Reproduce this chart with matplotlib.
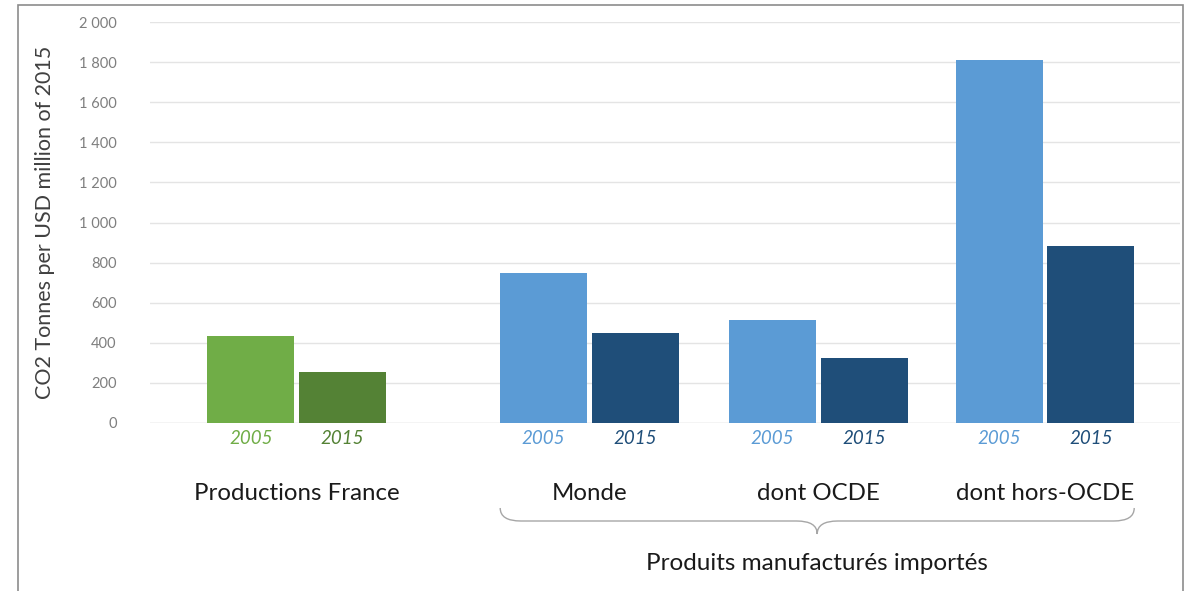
import matplotlib
matplotlib.use("Agg")
import matplotlib.pyplot as plt
from matplotlib.path import Path
from matplotlib.patches import PathPatch, Rectangle
import matplotlib.transforms as mtransforms
from matplotlib.ticker import FuncFormatter

plt.rcParams['font.family'] = ['Lato', 'DejaVu Sans']

groups = ["Productions France", "Monde", "dont OCDE", "dont hors-OCDE"]
years = ["2005", "2015"]
values_2005 = [435, 750, 515, 1810]
values_2015 = [255, 450, 325, 885]
color_2005 = ["#70AD47", "#5B9BD5", "#5B9BD5", "#5B9BD5"]
color_2015 = ["#548235", "#1F4E79", "#1F4E79", "#1F4E79"]
brace_label = "Produits manufacturés importés"
y_label = "CO2 Tonnes per USD million of 2015"
y_ticks = [0, 200, 400, 600, 800, 1000, 1200, 1400, 1600, 1800, 2000]

W, H = 1192, 591
fig = plt.figure(figsize=(W / 100, H / 100), dpi=100)
ax = fig.add_axes([150 / W, 1 - 423 / H, (1180 - 150) / W, (423 - 22) / H])

centers = [0, 1.28, 2.28, 3.27]
bw = 0.38
off = 0.2
for i, g in enumerate(groups):
    ax.bar(centers[i] - off, values_2005[i], width=bw, color=color_2005[i], zorder=3)
    ax.bar(centers[i] + off, values_2015[i], width=bw, color=color_2015[i], zorder=3)

ax.set_xlim(-0.64, 3.86)
ax.set_ylim(0, 2000)
ax.set_yticks(y_ticks)
ax.yaxis.set_major_formatter(FuncFormatter(lambda v, p: f"{int(v):,}".replace(",", " ")))
ax.tick_params(axis='y', length=0, pad=24, labelsize=10.5, labelcolor="#7f7f7f")
ax.set_xticks([])
ax.grid(axis='y', color="#e4e4e4", linewidth=1, zorder=0)
for s in ax.spines.values():
    s.set_visible(False)
ax.axhline(0, color="#e4e4e4", linewidth=1, zorder=1)

ax.set_ylabel(y_label, fontsize=15.5, color="#404040", labelpad=17)

trans = mtransforms.blended_transform_factory(ax.transData, fig.transFigure)
def fy(py):
    return 1 - py / H

for i, g in enumerate(groups):
    ax.text(centers[i] - off, fy(439), years[0], transform=trans, ha='center', va='center',
            style='italic', fontsize=13.5, color=color_2005[i])
    ax.text(centers[i] + off, fy(439), years[1], transform=trans, ha='center', va='center',
            style='italic', fontsize=13.5, color=color_2015[i])
    ax.text(centers[i], fy(493), g, transform=trans, ha='center', va='center',
            fontsize=17.3, color="#1a1a1a")

# brace
xL = centers[1] - off - bw / 2
xR = centers[3] + off + bw / 2
xc = (xL + xR) / 2
d = 0.09
yT, yM, yB = fy(508), fy(521), fy(534)
verts = [(xL, yT), (xL, yM), (xL + d, yM),
         (xc - d, yM), (xc, yM), (xc, yB),
         (xc, yM), (xc + d, yM),
         (xR - d, yM), (xR, yM), (xR, yT)]
codes = [Path.MOVETO, Path.CURVE3, Path.CURVE3,
         Path.LINETO, Path.CURVE3, Path.CURVE3,
         Path.CURVE3, Path.CURVE3,
         Path.LINETO, Path.CURVE3, Path.CURVE3]
ax.add_patch(PathPatch(Path(verts, codes), transform=trans, fill=False,
                       edgecolor="#a6a6a6", linewidth=1, clip_on=False))
ax.text(xc, fy(563), brace_label, transform=trans, ha='center', va='center',
        fontsize=17.5, color="#1a1a1a")

# outer frame
fig.patches.append(Rectangle((18 / W, -0.05), (1183 - 18) / W, 1.05 - 5 / H,
                             transform=fig.transFigure, fill=False,
                             edgecolor="#8c8c8c", linewidth=1.2))

fig.savefig("out.png", dpi=100)
